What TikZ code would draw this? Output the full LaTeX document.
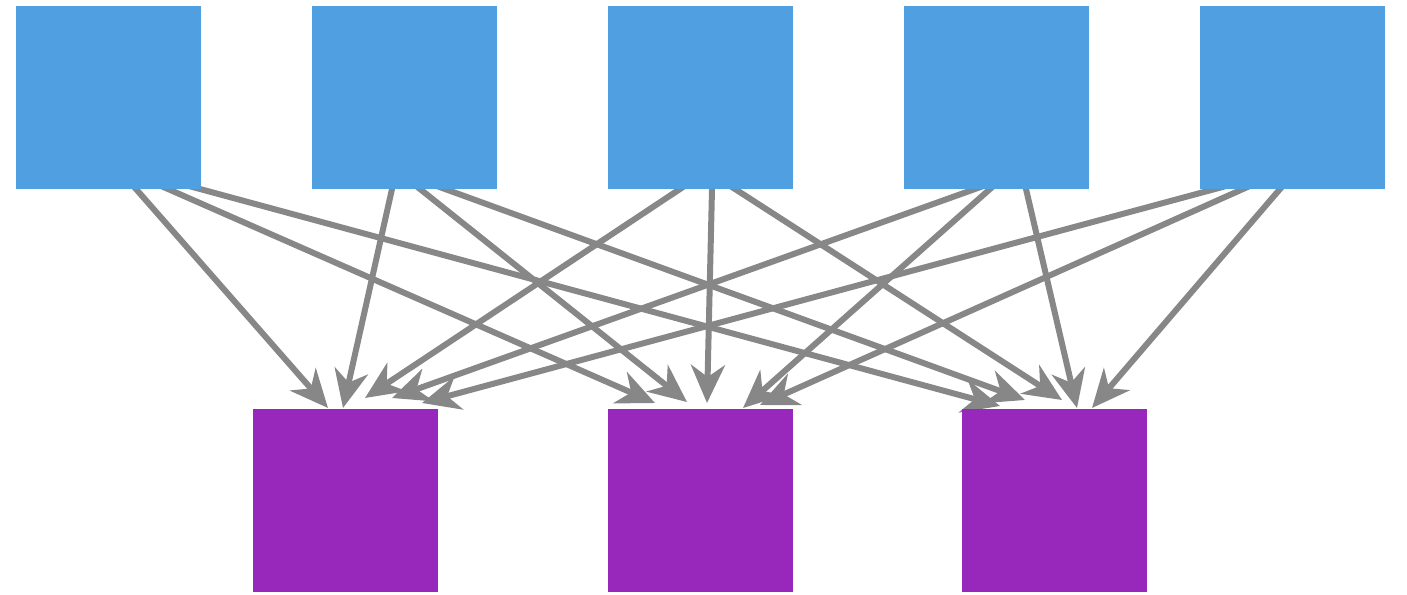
\documentclass[tikz,border=0pt]{standalone}
\usetikzlibrary{arrows.meta,calc}
\definecolor{topblue}{RGB}{80,159,224}
\definecolor{botpurple}{RGB}{152,40,187}
\definecolor{edgegray}{RGB}{135,135,135}
\pgfdeclarelayer{background}
\pgfsetlayers{background,main}
\begin{document}
\begin{tikzpicture}[x=0.5pt,y=-0.5pt,
  box/.style={minimum width=92.5pt,minimum height=91.5pt,inner sep=0pt,outer sep=0pt,draw=none},
  src/.style={box,fill=topblue},
  dst/.style={box,fill=botpurple},
  edge/.style={draw=edgegray,line width=3pt,shorten <=-8pt,
    -{Stealth[length=19pt,width=17pt,inset=6pt]}}]
\useasboundingbox (0,0) rectangle (1407,594);

% upper row
\node[src] (t1) at (108.5,97.5) {};
\node[src] (t2) at (404.5,97.5) {};
\node[src] (t3) at (700.5,97.5) {};
\node[src] (t4) at (996.5,97.5) {};
\node[src] (t5) at (1292.5,97.5) {};

% lower row
\node[dst] (b1) at (345.5,500.5) {};
\node[dst] (b2) at (700.5,500.5) {};
\node[dst] (b3) at (1054.5,500.5) {};

% every upper box feeds every lower box; edges pass under the boxes
\begin{pgfonlayer}{background}
\draw[edge] ($(t1.south west)+(120,0)$) -- ($(b1.north west)+(75,-1)$);
\draw[edge] ($(t1.south west)+(152,0)$) -- ($(b2.north west)+(47,-6)$);
\draw[edge] ($(t1.south west)+(184,0)$) -- ($(b3.north west)+(38,-3)$);

\draw[edge] ($(t2.south west)+(80,0)$) -- ($(b1.north west)+(90,-1)$);
\draw[edge] ($(t2.south west)+(108,0)$) -- ($(b2.north west)+(79,-7)$);
\draw[edge] ($(t2.south west)+(133,0)$) -- ($(b3.north west)+(63,-9)$);

\draw[edge] ($(t3.south west)+(72,0)$) -- ($(b1.north west)+(112,-11)$);
\draw[edge] ($(t3.south west)+(104,0)$) -- ($(b2.north west)+(99,-6)$);
\draw[edge] ($(t3.south west)+(127,0)$) -- ($(b3.north west)+(100,-9)$);

\draw[edge] ($(t4.south west)+(71,0)$) -- ($(b1.north west)+(139,-11)$);
\draw[edge] ($(t4.south west)+(86,0)$) -- ($(b2.north west)+(135,-1)$);
\draw[edge] ($(t4.south west)+(122,0)$) -- ($(b3.north west)+(115,-1)$);

\draw[edge] ($(t5.south west)+(15,0)$) -- ($(b1.north west)+(169,-6)$);
\draw[edge] ($(t5.south west)+(43,0)$) -- ($(b2.north west)+(152,-4)$);
\draw[edge] ($(t5.south west)+(80,0)$) -- ($(b3.north west)+(130,-1)$);
\end{pgfonlayer}
\end{tikzpicture}
\end{document}
